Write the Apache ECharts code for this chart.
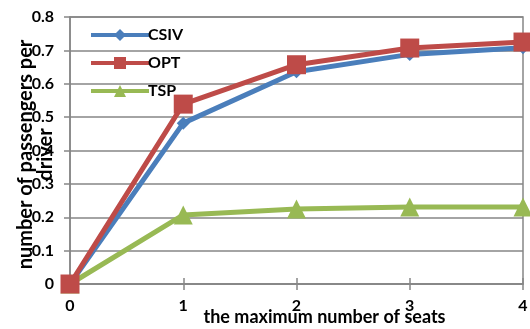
<!DOCTYPE html>
<html>
<head>
<meta charset="utf-8">
<script src="https://cdn.jsdelivr.net/npm/echarts@6/dist/echarts.min.js"></script>
<style>
  html, body { margin: 0; padding: 0; background: #fff; }
  #chart { width: 530px; height: 329px; }
</style>
</head>
<body>
<div id="chart"></div>
<script>
// Maximum number of seats per driver
const seats = ['0', '1', '2', '3', '4'];
// Average number of passengers per driver for each method
const csiv = [0, 0.482, 0.636, 0.688, 0.708];
const opt  = [0, 0.539, 0.657, 0.707, 0.725];
const tsp  = [0, 0.207, 0.225, 0.231, 0.231];
const yTicks = [0, 0.1, 0.2, 0.3, 0.4, 0.5, 0.6, 0.7, 0.8];

const BLUE = '#4a7ebb', RED = '#be4b48', GREEN = '#98b954', GRID = '#868686';
const FONT = 'Lato';

const chart = echarts.init(document.getElementById('chart'), null, { renderer: 'canvas' });

function lineSeries(name, data, color, symbol, size) {
  return {
    name, type: 'line', data,
    symbol, symbolSize: size,
    lineStyle: { color, width: 5 },
    itemStyle: { color },
    z: 3
  };
}

chart.setOption({
  animation: false,
  grid: {
    left: 70, right: 7, top: 17, bottom: 45, containLabel: false, outerBoundsMode: 'none',
    show: true, borderColor: GRID, borderWidth: 1.5
  },
  legend: {
    left: 84, top: 22, orient: 'vertical',
    itemWidth: 58, itemHeight: 15, itemGap: 12,
    lineStyle: { width: 4 },
    textStyle: { fontFamily: FONT, fontWeight: 'bold', fontSize: 16, color: '#000', padding: [0, 0, 0, -6] },
    data: ['CSIV', 'OPT', 'TSP']
  },
  xAxis: [{
    type: 'category', data: seats, boundaryGap: false,
    axisLine: { lineStyle: { color: GRID, width: 1.5 } },
    axisTick: { show: true, length: 6, lineStyle: { color: GRID, width: 1.5 } },
    axisLabel: { margin: 14, fontFamily: FONT, fontWeight: 'bold', fontSize: 16, color: '#000' },
    splitLine: { show: false },
    name: 'the maximum number of seats', nameLocation: 'middle', nameGap: 24, nameMoveOverlap: false,
    nameTextStyle: { fontFamily: FONT, fontWeight: 'bold', fontSize: 18, color: '#000', padding: [0, 0, 0, 56] }
  }, {
    type: 'category', data: seats, boundaryGap: false, position: 'bottom',
    axisLine: { show: false },
    axisTick: { show: true, inside: true, length: 6, lineStyle: { color: GRID, width: 1.5 } },
    axisLabel: { show: false }, splitLine: { show: false }
  }],
  yAxis: {
    type: 'value', min: 0, max: 0.8, interval: 0.1,
    axisLine: { show: true, lineStyle: { color: GRID, width: 1.5 } },
    axisTick: { show: true, length: 6, lineStyle: { color: GRID, width: 1.5 } },
    splitLine: { lineStyle: { color: GRID, width: 1.5 } },
    axisLabel: {
      margin: 16, fontFamily: FONT, fontWeight: 'bold', fontSize: 16, color: '#000',
      formatter: v => { const t = yTicks.find(k => Math.abs(k - v) < 1e-9); return t === 0 ? '0' : String(t); }
    },
    name: 'number of passengers per\ndriver', nameLocation: 'middle', nameRotate: 90, nameGap: 14,
    nameMoveOverlap: false,
    nameTextStyle: { fontFamily: FONT, fontWeight: 'bold', fontSize: 20, color: '#000', lineHeight: 20, align: 'center', padding: [0, 8, 0, 0] }
  },
  series: [
    lineSeries('TSP', tsp, GREEN, 'triangle', 19),
    lineSeries('CSIV', csiv, BLUE, 'diamond', 13),
    lineSeries('OPT', opt, RED, 'rect', 19)
  ]
});
</script>
</body>
</html>
